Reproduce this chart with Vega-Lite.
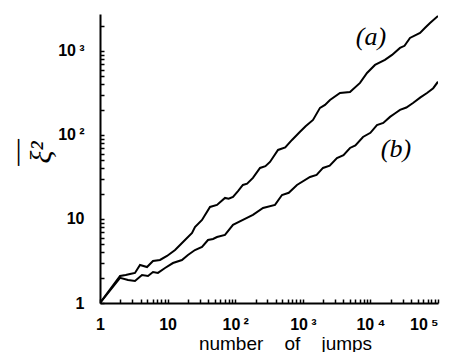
{
  "$schema": "https://vega.github.io/schema/vega-lite/v6.json",
  "autosize": "none",
  "padding": {"left": 100, "top": 14, "right": 17, "bottom": 49},
  "width": 338,
  "height": 289,
  "background": "white",
  "config": {"view": {"stroke": null}},
  "datasets": {
    "curves": [
      {"curve": "a", "n": 1, "msd": 1},
      {"curve": "a", "n": 1.98, "msd": 2.1},
      {"curve": "a", "n": 2.4, "msd": 2.15},
      {"curve": "a", "n": 2.78, "msd": 2.21},
      {"curve": "a", "n": 3.29, "msd": 2.28},
      {"curve": "a", "n": 3.91, "msd": 2.83},
      {"curve": "a", "n": 4.96, "msd": 2.68},
      {"curve": "a", "n": 6.08, "msd": 3.16},
      {"curve": "a", "n": 7.72, "msd": 3.25},
      {"curve": "a", "n": 9.8, "msd": 3.63},
      {"curve": "a", "n": 12.9, "msd": 4.27},
      {"curve": "a", "n": 16.9, "msd": 5.32},
      {"curve": "a", "n": 23, "msd": 6.81},
      {"curve": "a", "n": 25.4, "msd": 8.03},
      {"curve": "a", "n": 32.3, "msd": 9.73},
      {"curve": "a", "n": 42.4, "msd": 13.9},
      {"curve": "a", "n": 53.8, "msd": 14.7},
      {"curve": "a", "n": 70.6, "msd": 17.8},
      {"curve": "a", "n": 80, "msd": 17.4},
      {"curve": "a", "n": 92.8, "msd": 18.3},
      {"curve": "a", "n": 110, "msd": 21.5},
      {"curve": "a", "n": 130, "msd": 25.4},
      {"curve": "a", "n": 150, "msd": 26.3},
      {"curve": "a", "n": 183, "msd": 30.8},
      {"curve": "a", "n": 233, "msd": 40.5},
      {"curve": "a", "n": 280, "msd": 42.5},
      {"curve": "a", "n": 327, "msd": 47.7},
      {"curve": "a", "n": 430, "msd": 66.3},
      {"curve": "a", "n": 550, "msd": 71},
      {"curve": "a", "n": 692, "msd": 87.2},
      {"curve": "a", "n": 910, "msd": 109},
      {"curve": "a", "n": 1100, "msd": 127},
      {"curve": "a", "n": 1416, "msd": 151},
      {"curve": "a", "n": 1796, "msd": 210},
      {"curve": "a", "n": 2130, "msd": 228},
      {"curve": "a", "n": 2525, "msd": 261},
      {"curve": "a", "n": 3550, "msd": 316},
      {"curve": "a", "n": 4990, "msd": 325},
      {"curve": "a", "n": 7020, "msd": 416},
      {"curve": "a", "n": 8910, "msd": 547},
      {"curve": "a", "n": 11700, "msd": 681},
      {"curve": "a", "n": 16400, "msd": 781},
      {"curve": "a", "n": 20900, "msd": 896},
      {"curve": "a", "n": 27400, "msd": 1086},
      {"curve": "a", "n": 32000, "msd": 1150},
      {"curve": "a", "n": 38500, "msd": 1428},
      {"curve": "a", "n": 54200, "msd": 1638},
      {"curve": "a", "n": 65000, "msd": 1900},
      {"curve": "a", "n": 76200, "msd": 2154},
      {"curve": "a", "n": 100000, "msd": 2600},
      {"curve": "b", "n": 1, "msd": 1},
      {"curve": "b", "n": 1.98, "msd": 1.99},
      {"curve": "b", "n": 2.6, "msd": 1.88},
      {"curve": "b", "n": 3.29, "msd": 1.83},
      {"curve": "b", "n": 4.18, "msd": 2.15},
      {"curve": "b", "n": 5.13, "msd": 2.1},
      {"curve": "b", "n": 6.08, "msd": 2.34},
      {"curve": "b", "n": 7.2, "msd": 2.28},
      {"curve": "b", "n": 9.16, "msd": 2.61},
      {"curve": "b", "n": 12, "msd": 2.99},
      {"curve": "b", "n": 16.3, "msd": 3.25},
      {"curve": "b", "n": 20, "msd": 3.73},
      {"curve": "b", "n": 25.4, "msd": 4.27},
      {"curve": "b", "n": 32.3, "msd": 4.64},
      {"curve": "b", "n": 39.6, "msd": 5.62},
      {"curve": "b", "n": 47, "msd": 5.78},
      {"curve": "b", "n": 53.8, "msd": 6.1},
      {"curve": "b", "n": 70.6, "msd": 6.45},
      {"curve": "b", "n": 92.8, "msd": 8.5},
      {"curve": "b", "n": 130, "msd": 9.73},
      {"curve": "b", "n": 183, "msd": 11.2},
      {"curve": "b", "n": 258, "msd": 13.5},
      {"curve": "b", "n": 388, "msd": 14.7},
      {"curve": "b", "n": 492, "msd": 19.3},
      {"curve": "b", "n": 620, "msd": 20.5},
      {"curve": "b", "n": 820, "msd": 25.4},
      {"curve": "b", "n": 1279, "msd": 31.6},
      {"curve": "b", "n": 1600, "msd": 33.5},
      {"curve": "b", "n": 1990, "msd": 40.5},
      {"curve": "b", "n": 2500, "msd": 43},
      {"curve": "b", "n": 3200, "msd": 53.2},
      {"curve": "b", "n": 4000, "msd": 57.5},
      {"curve": "b", "n": 4990, "msd": 70},
      {"curve": "b", "n": 6000, "msd": 75},
      {"curve": "b", "n": 7770, "msd": 94.6},
      {"curve": "b", "n": 10000, "msd": 106},
      {"curve": "b", "n": 12500, "msd": 131},
      {"curve": "b", "n": 15500, "msd": 139},
      {"curve": "b", "n": 19500, "msd": 164},
      {"curve": "b", "n": 23000, "msd": 180},
      {"curve": "b", "n": 27400, "msd": 199},
      {"curve": "b", "n": 34000, "msd": 212},
      {"curve": "b", "n": 42700, "msd": 240},
      {"curve": "b", "n": 55000, "msd": 280},
      {"curve": "b", "n": 68800, "msd": 316},
      {"curve": "b", "n": 85000, "msd": 360},
      {"curve": "b", "n": 100000, "msd": 430}
    ],
    "labels": [
      {"text": "(a)", "n": 10200, "msd": 1468},
      {"text": "(b)", "n": 23900, "msd": 68}
    ]
  },
  "layer": [
    {
      "data": {"name": "curves"},
      "mark": {"type": "line", "color": "black", "strokeWidth": 2, "clip": true},
      "encoding": {
        "x": {
          "field": "n", "type": "quantitative",
          "scale": {"type": "log", "domain": [1, 100000], "nice": false},
          "axis": {
            "values": [1,2,3,4,5,6,7,8,9,10,20,30,40,50,60,70,80,90,100,200,300,400,500,600,700,800,900,1000,2000,3000,4000,5000,6000,7000,8000,9000,10000,20000,30000,40000,50000,60000,70000,80000,90000,100000],
            "labelExpr": "datum.value == 1 ? '1' : datum.value == 10 ? '10' : datum.value == 100 ? '10\u2009²' : datum.value == 1000 ? '10\u2009³' : datum.value == 10000 ? '10\u2009⁴' : datum.value == 100000 ? '10\u2009⁵' : ''",
            "labelAlign": {"condition": {"test": "datum.value == 100000", "value": "right"}, "value": "center"},
            "labelFlush": false,
            "labelOverlap": false,
            "labelFont": "Liberation Sans",
            "labelFontSize": 16,
            "labelFontWeight": "bold",
            "labelColor": "black",
            "labelPadding": 17,
            "tickSize": -4,
            "tickColor": "black",
            "tickWidth": 1.5,
            "domainColor": "black",
            "domainWidth": 2,
            "grid": false,
            "title": "number\u00a0\u00a0\u00a0\u00a0of\u00a0\u00a0\u00a0\u00a0jumps",
            "titleFont": "Liberation Sans",
            "titleFontSize": 19,
            "titleFontWeight": "normal",
            "titleColor": "black",
            "titleX": 185,
            "titleY": 46,
            "titleAlign": "center",
            "titleBaseline": "alphabetic"
          }
        },
        "y": {
          "field": "msd", "type": "quantitative",
          "scale": {"type": "log", "domain": [1, 2750], "nice": false},
          "axis": {
            "values": [1,2,3,4,5,6,7,8,9,10,20,30,40,50,60,70,80,90,100,200,300,400,500,600,700,800,900,1000,2000],
            "labelExpr": "datum.value == 1 ? '1' : datum.value == 10 ? '10' : datum.value == 100 ? '10\u2009²' : datum.value == 1000 ? '10\u2009³' : ''",
            "labelOverlap": false,
            "labelFlush": false,
            "labelFont": "Liberation Sans",
            "labelFontSize": 16,
            "labelFontWeight": "bold",
            "labelColor": "black",
            "labelPadding": 20,
            "tickSize": -4,
            "tickColor": "black",
            "tickWidth": 1.5,
            "domainColor": "black",
            "domainWidth": 2,
            "grid": false,
            "title": ["—", "ξ²"],
            "titleFont": "Liberation Serif",
            "titleFontSize": 30,
            "titleFontStyle": "italic",
            "titleFontWeight": "normal",
            "titleColor": "black",
            "titleLineHeight": 25,
            "titleX": -99,
            "titleY": 138,
            "titleAngle": -90,
            "titleAlign": "center",
            "titleBaseline": "top"
          }
        },
        "detail": {"field": "curve"}
      }
    },
    {
      "data": {"name": "labels"},
      "mark": {"type": "text", "font": "Liberation Serif", "fontSize": 26, "fontStyle": "italic", "color": "black", "align": "center", "baseline": "middle"},
      "encoding": {
        "x": {"field": "n", "type": "quantitative"},
        "y": {"field": "msd", "type": "quantitative"},
        "text": {"field": "text"}
      }
    }
  ]
}
